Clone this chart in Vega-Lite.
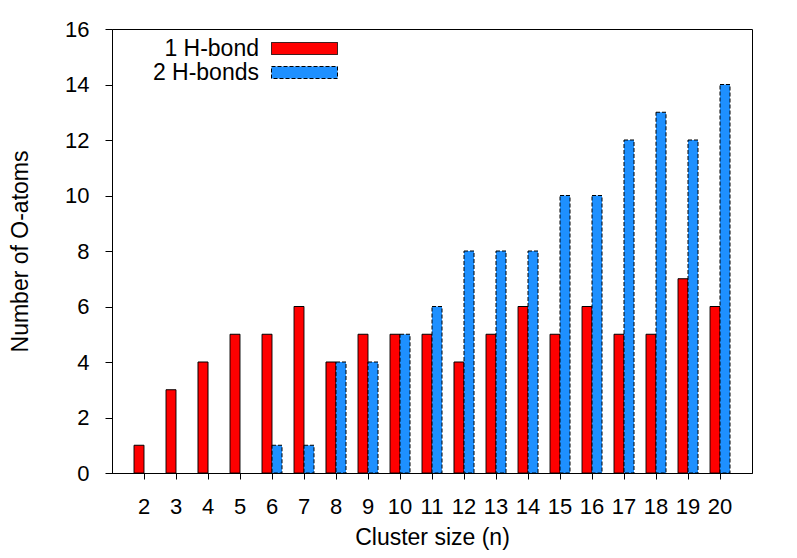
{
  "$schema": "https://vega.github.io/schema/vega-lite/v6.json",
  "autosize": "none",
  "width": 640,
  "height": 444,
  "padding": {"left": 112, "top": 29, "right": 45, "bottom": 85},
  "background": "white",
  "data": {
    "values": [
      {"n": 2, "series": "1 H-bond", "count": 1},
      {"n": 3, "series": "1 H-bond", "count": 3},
      {"n": 4, "series": "1 H-bond", "count": 4},
      {"n": 5, "series": "1 H-bond", "count": 5},
      {"n": 6, "series": "1 H-bond", "count": 5},
      {"n": 7, "series": "1 H-bond", "count": 6},
      {"n": 8, "series": "1 H-bond", "count": 4},
      {"n": 9, "series": "1 H-bond", "count": 5},
      {"n": 10, "series": "1 H-bond", "count": 5},
      {"n": 11, "series": "1 H-bond", "count": 5},
      {"n": 12, "series": "1 H-bond", "count": 4},
      {"n": 13, "series": "1 H-bond", "count": 5},
      {"n": 14, "series": "1 H-bond", "count": 6},
      {"n": 15, "series": "1 H-bond", "count": 5},
      {"n": 16, "series": "1 H-bond", "count": 6},
      {"n": 17, "series": "1 H-bond", "count": 5},
      {"n": 18, "series": "1 H-bond", "count": 5},
      {"n": 19, "series": "1 H-bond", "count": 7},
      {"n": 20, "series": "1 H-bond", "count": 6},
      {"n": 6, "series": "2 H-bonds", "count": 1},
      {"n": 7, "series": "2 H-bonds", "count": 1},
      {"n": 8, "series": "2 H-bonds", "count": 4},
      {"n": 9, "series": "2 H-bonds", "count": 4},
      {"n": 10, "series": "2 H-bonds", "count": 5},
      {"n": 11, "series": "2 H-bonds", "count": 6},
      {"n": 12, "series": "2 H-bonds", "count": 8},
      {"n": 13, "series": "2 H-bonds", "count": 8},
      {"n": 14, "series": "2 H-bonds", "count": 8},
      {"n": 15, "series": "2 H-bonds", "count": 10},
      {"n": 16, "series": "2 H-bonds", "count": 10},
      {"n": 17, "series": "2 H-bonds", "count": 12},
      {"n": 18, "series": "2 H-bonds", "count": 13},
      {"n": 19, "series": "2 H-bonds", "count": 12},
      {"n": 20, "series": "2 H-bonds", "count": 14}
    ]
  },
  "mark": {"type": "bar", "stroke": "black", "strokeWidth": 1},
  "encoding": {
    "x": {
      "field": "n",
      "type": "ordinal",
      "scale": {"domain": [2,3,4,5,6,7,8,9,10,11,12,13,14,15,16,17,18,19,20], "paddingInner": 0.375, "paddingOuter": 0.6875},
      "axis": {"title": "Cluster size (n)", "labelAngle": 0, "tickSize": 6, "labelPadding": 17, "titlePadding": 9, "titleFontSize": 23}
    },
    "xOffset": {
      "field": "series",
      "type": "nominal",
      "scale": {"domain": ["1 H-bond", "2 H-bonds"], "paddingInner": 0, "paddingOuter": 0}
    },
    "y": {
      "field": "count",
      "type": "quantitative",
      "scale": {"domain": [0, 16], "nice": false},
      "axis": {"title": "Number of O-atoms", "values": [0,2,4,6,8,10,12,14,16], "tickSize": 7, "labelPadding": 16, "titlePadding": 32, "titleFontSize": 23}
    },
    "color": {
      "field": "series",
      "type": "nominal",
      "scale": {"domain": ["1 H-bond", "2 H-bonds"], "range": ["#ff0000", "#1e90ff"]},
      "legend": {
        "title": null,
        "orient": "none",
        "legendX": 181,
        "legendY": 8,
        "padding": 0,
        "symbolType": "M-5.5,-1H5.5V1H-5.5Z",
        "symbolSize": 144,
        "symbolStrokeColor": "black",
        "symbolStrokeWidth": 1,
        "labelAlign": "right",
        "labelOffset": -57,
        "labelFontSize": 23,
        "labelFont": "Liberation Sans",
        "labelColor": "black",
        "rowPadding": 0
      }
    },
    "strokeDash": {
      "field": "series",
      "type": "nominal",
      "scale": {"domain": ["1 H-bond", "2 H-bonds"], "range": [[1, 0], [4, 2]]},
      "legend": null
    }
  },
  "config": {
    "view": {"stroke": "black", "strokeWidth": 1},
    "axis": {
      "grid": false,
      "domainColor": "black",
      "tickColor": "black",
      "labelColor": "black",
      "titleColor": "black",
      "labelFont": "Liberation Sans",
      "titleFont": "Liberation Sans",
      "labelFontSize": 22,
      "titleFontSize": 23,
      "titleFontWeight": "normal"
    }
  }
}
